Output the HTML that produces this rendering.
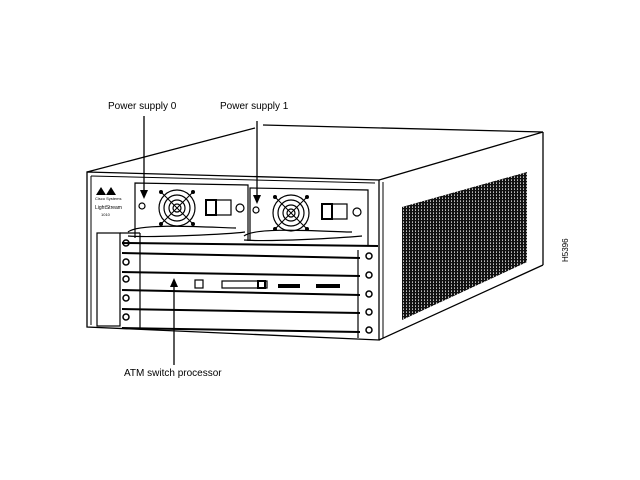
<!DOCTYPE html>
<html><head><style>
html,body{margin:0;padding:0;background:#fff;}
svg{display:block;}
text{font-family:"Liberation Sans",sans-serif;fill:#000;}
</style></head><body>
<svg width="640" height="480" viewBox="0 0 640 480" xmlns="http://www.w3.org/2000/svg">
<defs>
<pattern id="g" width="3" height="3" patternUnits="userSpaceOnUse">
<rect width="3" height="3" fill="#111"/>
<rect x="1" y="0" width="1" height="1" fill="#bbb"/>
<rect x="1" y="2" width="1" height="1" fill="#888"/>
</pattern>
</defs>
<g fill="none" stroke="#000" stroke-width="1.3">
<polyline points="87,172 255,128"/>
<polyline points="263,125 543,132"/>
<polyline points="379,180 543,132"/>
<polygon points="87,172 379,180 379,340 87,327"/>
<polyline points="91,176 375,183" stroke-width="1"/>
<line x1="91" y1="176" x2="91" y2="325" stroke-width="1"/>
<line x1="543" y1="132" x2="543" y2="265"/>
<line x1="379" y1="340" x2="543" y2="265"/>
<line x1="383" y1="182" x2="383" y2="338" stroke-width="1"/>
</g>
<polygon points="402,207 527,172 527,262 402,320" fill="url(#g)"/>
<polygon points="96,195 101,187 106,195" fill="#000"/>
<polygon points="106,195 111,187 116,195" fill="#000"/>
<text x="95" y="200" font-size="4">Cisco Systems</text>
<text x="95" y="209" font-size="5">LightStream</text>
<text x="101" y="216" font-size="4">1010</text>
<g fill="none" stroke="#000" stroke-width="1.2">
<polyline points="135,238 135,183 248,185 248,241"/>
<circle cx="177" cy="208" r="18"/><circle cx="177" cy="208" r="13"/><circle cx="177" cy="208" r="8"/><circle cx="177" cy="208" r="4"/>
<path d="M161,192 L193,224 M193,192 L161,224" stroke-width="1"/>
<rect x="206" y="200" width="10" height="15" stroke-width="2"/>
<rect x="216" y="200" width="15" height="15"/>
<circle cx="240" cy="208" r="4"/><circle cx="142" cy="206" r="3"/>
<path d="M128,232 C140,222 220,228 236,228 M128,236 C150,238 230,234 245,232"/>
<polyline points="250,241 250,188 368,190 368,245"/>
<circle cx="291" cy="213" r="18"/><circle cx="291" cy="213" r="13"/><circle cx="291" cy="213" r="8"/><circle cx="291" cy="213" r="4"/>
<path d="M275,197 L307,229 M307,197 L275,229" stroke-width="1"/>
<rect x="322" y="204" width="10" height="15" stroke-width="2"/>
<rect x="332" y="204" width="15" height="15"/>
<circle cx="357" cy="212" r="4"/><circle cx="256" cy="210" r="3"/>
<path d="M244,236 C256,226 330,232 352,232 M244,240 C270,242 340,238 362,236"/>
<rect x="97" y="233" width="23" height="93"/>
<line x1="120" y1="233" x2="140" y2="233"/>
<line x1="140" y1="233" x2="140" y2="328"/>
<g stroke-width="2">
<line x1="122" y1="243" x2="378" y2="246"/>
<line x1="122" y1="253" x2="360" y2="258"/>
<line x1="122" y1="272" x2="360" y2="276"/>
<line x1="122" y1="290" x2="360" y2="295"/>
<line x1="122" y1="309" x2="360" y2="313"/>
<line x1="122" y1="328" x2="360" y2="332"/>
</g>
<line x1="358" y1="250" x2="358" y2="338"/>
<g stroke-width="1.5">
<circle cx="126" cy="243" r="3"/><circle cx="126" cy="262" r="3"/><circle cx="126" cy="279" r="3"/><circle cx="126" cy="298" r="3"/><circle cx="126" cy="317" r="3"/>
<circle cx="369" cy="256" r="3"/><circle cx="369" cy="275" r="3"/><circle cx="369" cy="294" r="3"/><circle cx="369" cy="312" r="3"/><circle cx="369" cy="330" r="3"/>
</g>
<rect x="195" y="280" width="8" height="8"/>
<rect x="222" y="281" width="45" height="7"/>
<rect x="258" y="281" width="7" height="7" stroke-width="2"/>
</g>
<g fill="#000">
<circle cx="161" cy="192" r="2"/><circle cx="193" cy="192" r="2"/><circle cx="161" cy="224" r="2"/><circle cx="193" cy="224" r="2"/>
<circle cx="275" cy="197" r="2"/><circle cx="307" cy="197" r="2"/><circle cx="275" cy="229" r="2"/><circle cx="307" cy="229" r="2"/>
</g>
<rect x="278" y="284" width="22" height="4" fill="#000"/>
<rect x="316" y="284" width="24" height="4" fill="#000"/>
<g stroke="#000" stroke-width="1.3">
<line x1="144" y1="116" x2="144" y2="192"/>
<line x1="257" y1="121" x2="257" y2="197"/>
<line x1="174" y1="365" x2="174" y2="285"/>
</g>
<polygon points="140,190 148,190 144,199" fill="#000"/>
<polygon points="253,195 261,195 257,204" fill="#000"/>
<polygon points="170,287 178,287 174,278" fill="#000"/>
<text x="108" y="109" font-size="10">Power supply 0</text>
<text x="220" y="109" font-size="10">Power supply 1</text>
<text x="124" y="376" font-size="10">ATM switch processor</text>
<text x="0" y="0" font-size="8" transform="translate(568,262) rotate(-90)">H5396</text>
</svg>
</body></html>
